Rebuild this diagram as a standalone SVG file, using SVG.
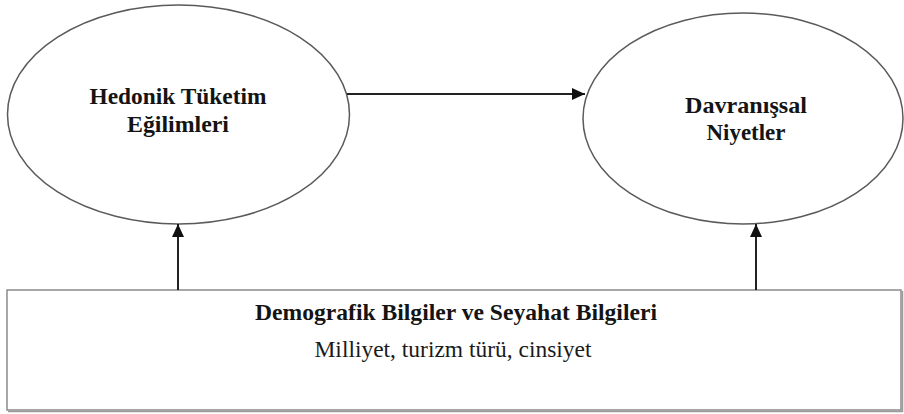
<svg xmlns="http://www.w3.org/2000/svg" width="904" height="414" viewBox="0 0 904 414">
<style>
.ell{fill:#ffffff;stroke:#5a5a5a;stroke-width:1.5}
.box{fill:#ffffff;stroke:#8a8a8a;stroke-width:1.5}
.shadow{stroke:#9a9a9a;stroke-width:1.5;fill:none}
.tb{font-family:"Liberation Serif","Times New Roman",serif;font-weight:bold;font-size:23px;fill:#141414;text-anchor:middle}
.tr{font-family:"Liberation Serif","Times New Roman",serif;font-size:23px;fill:#1a1a1a;text-anchor:middle}
.conn{stroke:#222;stroke-width:2;fill:none}
</style>
<defs>
<marker id="arr" markerWidth="14" markerHeight="12" refX="13" refY="6" orient="auto" markerUnits="userSpaceOnUse">
<path d="M0,0 L13,6 L0,12 Z" fill="#111"/>
</marker>
</defs>
<rect width="904" height="414" fill="#ffffff"/>
<g id="node-hedonik">
<ellipse class="ell" cx="178.5" cy="114.5" rx="171" ry="109.5"/>
<text class="tb" x="178" y="104" textLength="177" lengthAdjust="spacingAndGlyphs">Hedonik Tüketim</text>
<text class="tb" x="178" y="132" textLength="102" lengthAdjust="spacingAndGlyphs">Eğilimleri</text>
</g>
<g id="node-davranissal">
<ellipse class="ell" cx="743" cy="118.5" rx="160" ry="105.5"/>
<text class="tb" x="746" y="113" textLength="122" lengthAdjust="spacingAndGlyphs">Davranışsal</text>
<text class="tb" x="746" y="140" textLength="79" lengthAdjust="spacingAndGlyphs">Niyetler</text>
</g>
<g id="node-demografik">
<rect class="box" x="7" y="290" width="894" height="120"/>
<path class="shadow" d="M8,411.5 L902.5,411.5 L902.5,291"/>
<text class="tb" x="456" y="320" textLength="402" lengthAdjust="spacingAndGlyphs">Demografik Bilgiler ve Seyahat Bilgileri</text>
<text class="tr" x="453" y="357" textLength="277" lengthAdjust="spacingAndGlyphs">Milliyet, turizm türü, cinsiyet</text>
</g>
<g id="connectors">
<line class="conn" x1="347" y1="94" x2="585" y2="94" marker-end="url(#arr)"/>
<line class="conn" x1="178" y1="290" x2="178" y2="224" marker-end="url(#arr)"/>
<line class="conn" x1="756" y1="290" x2="756" y2="224" marker-end="url(#arr)"/>
</g>
</svg>
